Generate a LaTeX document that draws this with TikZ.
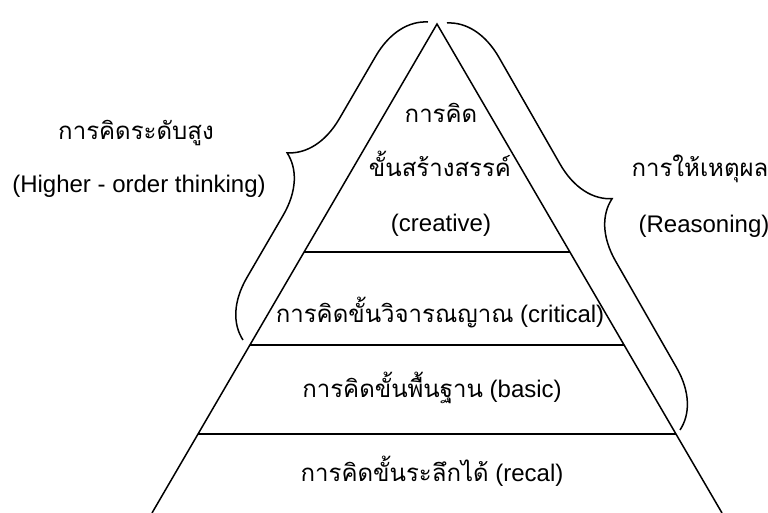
\documentclass[tikz,border=0pt]{standalone}
\usepackage{fontspec}
\setmainfont{Liberation Sans}
\newfontfamily\thaifont[Script=Thai]{Loma}
\usetikzlibrary{calc,decorations.pathreplacing}
\begin{document}
\begin{tikzpicture}[x=0.5pt,y=0.5pt,line width=0.75pt,
        level text/.style={anchor=base,inner sep=0pt,font=\fontsize{12}{14}\selectfont},
        side brace/.style={decorate,decoration={brace,amplitude=28pt}}]
    \useasboundingbox (0,0) rectangle (768,513);
    \coordinate (apex) at (437,489);
    \coordinate (bl) at (152,0);
    \coordinate (br) at (722,0);
    \draw (bl) -- (apex) -- (br);

    % level lines
    \coordinate (l1) at ($(apex)!0.4663!(bl)$);
    \coordinate (r1) at ($(apex)!0.4663!(br)$);
    \coordinate (l2) at ($(apex)!0.6564!(bl)$);
    \coordinate (r2) at ($(apex)!0.6564!(br)$);
    \coordinate (l3) at ($(apex)!0.8384!(bl)$);
    \coordinate (r3) at ($(apex)!0.8384!(br)$);
    \draw (l1) -- (r1);
    \draw (l2) -- (r2);
    \draw (l3) -- (r3);

    % braces
    \coordinate (hot a) at (243,173);
    \coordinate (hot b) at (428,491);
    \coordinate (reason a) at (447,490);
    \coordinate (reason b) at (680,83);
    \draw[side brace] (hot a) -- (hot b);
    \draw[side brace] (reason a) -- (reason b);

    \node[level text] at (441,390) (creative1) {\thaifont การคิด};
    \node[level text] at (440,336) (creative2) {\thaifont ขั้นสร้างสรรค์};
    \node[level text] at (441,281) (creative3) {(creative)};
    \node[level text] at (440,190) (critical) {{\thaifont การคิดขั้นวิจารณญาณ} (critical)};
    \node[level text] at (432,115) (basic) {{\thaifont การคิดขั้นพื้นฐาน} (basic)};
    \node[level text] at (432,31) (recal) {{\thaifont การคิดขั้นระลึกได้} (recal)};
    \node[level text] at (136,373) (hot1) {\thaifont การคิดระดับสูง};
    \node[level text] at (139,320) (hot2) {(Higher - order thinking)};
    \node[level text] at (700,336) (reason1) {\thaifont การให้เหตุผล};
    \node[level text] at (704,280) (reason2) {(Reasoning)};
\end{tikzpicture}
\end{document}
